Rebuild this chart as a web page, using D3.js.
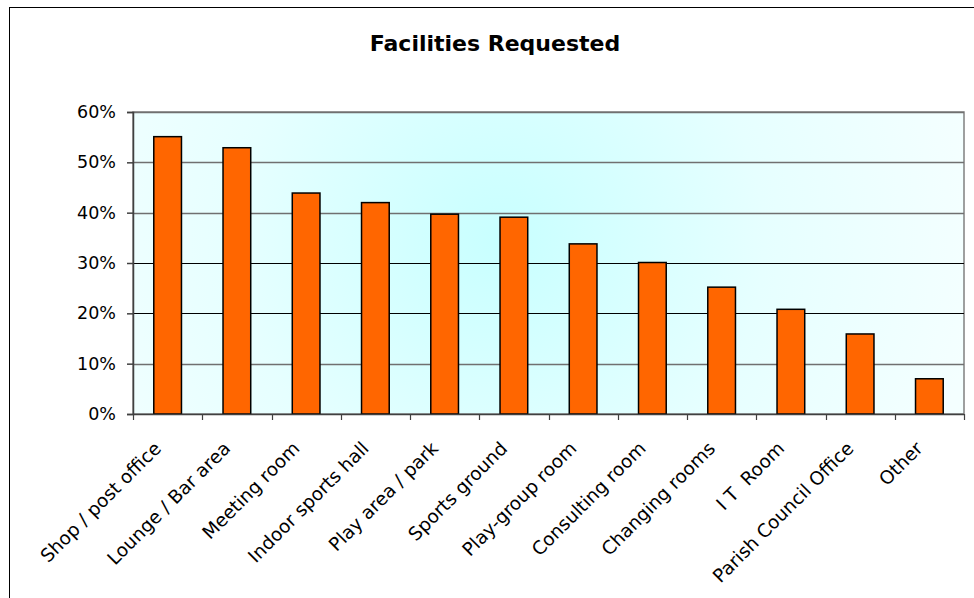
<!DOCTYPE html>
<html>
<head>
<meta charset="utf-8">
<script src="https://cdn.jsdelivr.net/npm/d3@7"></script>
<style>
  body { margin: 0; background: #fff; }
  svg text { font-family: "DejaVu Sans", Verdana, sans-serif; fill: #000; }
</style>
</head>
<body>
<div id="chart"></div>
<script>
// Data
const categories = ["Shop / post office", "Lounge / Bar area", "Meeting room", "Indoor sports hall",
  "Play area / park", "Sports ground", "Play-group room", "Consulting room", "Changing rooms",
  "I T  Room", "Parish Council Office", "Other"]
const values = [55.1, 52.9, 43.9, 42.0, 39.7, 39.1, 33.8, 30.1, 25.2, 20.8, 15.9, 7.0]
const yTicks = [0, 10, 20, 30, 40, 50, 60]
const title = "Facilities Requested"

const width = 974
const height = 598
const plot = { left: 133, top: 112, right: 964, bottom: 414 }

var svg = d3.select("#chart")
  .append("svg")
    .attr("width", width)
    .attr("height", height)

// Outer chart frame (runs off the right and bottom edges)
svg.append("rect")
  .attr("x", 9.5).attr("y", 7.5)
  .attr("width", width + 10).attr("height", height + 10)
  .attr("fill", "#fff")
  .attr("stroke", "#000")
  .attr("stroke-width", 1)

// Plot background gradient
var defs = svg.append("defs")
var grad = defs.append("radialGradient")
  .attr("id", "bg")
  .attr("gradientUnits", "userSpaceOnUse")
  .attr("cx", 500).attr("cy", 240).attr("r", 480)
grad.append("stop").attr("offset", "0%").attr("stop-color", "#c8ffff")
grad.append("stop").attr("offset", "55%").attr("stop-color", "#e6ffff")
grad.append("stop").attr("offset", "100%").attr("stop-color", "#f4ffff")

var x = d3.scaleBand()
  .domain(categories)
  .range([plot.left, plot.right])
  .paddingInner(0.6)
  .paddingOuter(0.3)

var xBand = d3.scaleBand()
  .domain(categories)
  .range([plot.left, plot.right])

var y = d3.scaleLinear()
  .domain([0, 60])
  .range([plot.bottom, plot.top])

svg.append("rect")
  .attr("x", plot.left).attr("y", plot.top)
  .attr("width", plot.right - plot.left)
  .attr("height", plot.bottom - plot.top)
  .attr("fill", "url(#bg)")
  .attr("stroke", "#808080")
  .attr("stroke-width", 1.5)

// Gridlines
svg.append("g")
  .selectAll("line")
  .data(yTicks.filter(d => d > 0))
  .enter()
  .append("line")
    .attr("x1", plot.left).attr("x2", plot.right)
    .attr("y1", d => Math.round(y(d)) + 0.5).attr("y2", d => Math.round(y(d)) + 0.5)
    .attr("stroke", d => (d == 20 || d == 30) ? "#000" : "#707070")
    .attr("stroke-width", d => (d == 20 || d == 30) ? 1 : 1.4)

// Bars
svg.append("g")
  .selectAll("rect")
  .data(values)
  .enter()
  .append("rect")
    .attr("x", (d, i) => x(categories[i]))
    .attr("y", d => y(d))
    .attr("width", x.bandwidth())
    .attr("height", d => y(0) - y(d))
    .attr("fill", "#ff6600")
    .attr("stroke", "#000")
    .attr("stroke-width", 1.5)

// Y axis
var yAxis = svg.append("g")
  .attr("transform", `translate(${plot.left},0)`)
  .call(d3.axisLeft(y).tickValues(yTicks).tickSize(6).tickPadding(11).tickFormat(d => d + "%"))
yAxis.select(".domain").attr("stroke", "#404040").attr("stroke-width", 1.5)
yAxis.selectAll(".tick line").attr("stroke", "#404040").attr("stroke-width", 1.5)
yAxis.selectAll("text")
  .style("font-size", "17.5px")
  .style("font-family", "DejaVu Sans, Verdana, sans-serif")
  .attr("fill", "#000")

// X axis: ticks at category boundaries
var xAxisG = svg.append("g")
xAxisG.append("line")
  .attr("x1", plot.left).attr("x2", plot.right)
  .attr("y1", plot.bottom + 0.5).attr("y2", plot.bottom + 0.5)
  .attr("stroke", "#404040").attr("stroke-width", 1.5)
xAxisG.selectAll(".xtick")
  .data(categories.concat(["end"]))
  .enter()
  .append("line")
    .attr("class", "xtick")
    .attr("x1", (d, i) => Math.round(plot.left + i * xBand.step()) + 0.5)
    .attr("x2", (d, i) => Math.round(plot.left + i * xBand.step()) + 0.5)
    .attr("y1", plot.bottom).attr("y2", plot.bottom + 6)
    .attr("stroke", "#404040").attr("stroke-width", 1.2)

// Category labels, rotated; keep the double space in "I T  Room"
xAxisG.selectAll(".xlabel")
  .data(categories)
  .enter()
  .append("text")
    .attr("class", "xlabel")
    .attr("transform", d => `translate(${xBand(d) + xBand.bandwidth() / 2 - 10},${plot.bottom + 31}) rotate(-45)`)
    .attr("text-anchor", "end")
    .attr("dy", "0.35em")
    .style("font-size", "18.5px")
    .style("white-space", "pre")
    .text(d => d)

// Title
svg.append("text")
  .attr("x", 495)
  .attr("y", 51)
  .attr("text-anchor", "middle")
  .style("font-size", "22px")
  .style("font-weight", "bold")
  .text(title)
</script>
</body>
</html>
